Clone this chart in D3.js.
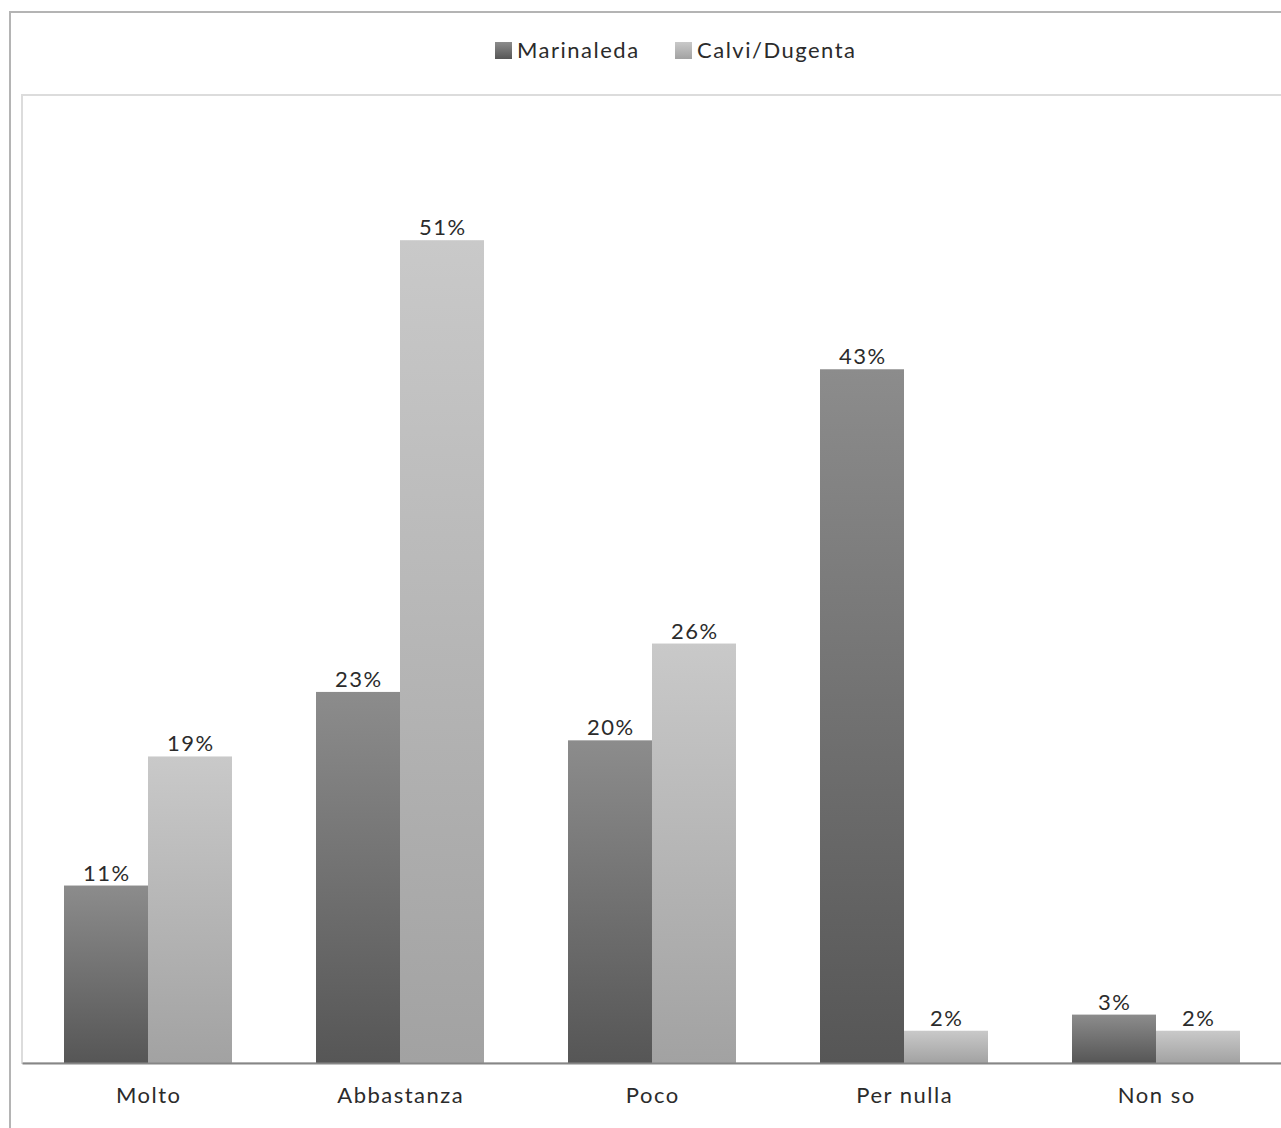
<!DOCTYPE html>
<html><head><meta charset="utf-8">
<script src="https://cdn.jsdelivr.net/npm/d3@7"></script>
<style>body{margin:0;background:#fff;overflow:hidden}svg{display:block}</style>
</head><body>
<script>
const categories = ["Molto","Abbastanza","Poco","Per nulla","Non so"];
const seriesNames = ["Marinaleda","Calvi/Dugenta"];
const marinaleda = [11,23,20,43,3];
const calviDugenta = [19,51,26,2,2];
const W = 1281, H = 1128;
const font = "Lato, 'Open Sans', sans-serif";
const fs = 22, ls = 1.5;
const svg = d3.select("body").append("svg").attr("width",W).attr("height",H);
const defs = svg.append("defs");
function grad(id, top, bottom){
  const g = defs.append("linearGradient").attr("id",id).attr("x1",0).attr("y1",0).attr("x2",0).attr("y2",1);
  g.append("stop").attr("offset","0%").attr("stop-color",top);
  g.append("stop").attr("offset","100%").attr("stop-color",bottom);
}
grad("g0","#8c8c8c","#565656");
grad("g1","#c9c9c9","#a2a2a2");
// outer border
svg.append("rect").attr("x",10).attr("y",12).attr("width",W+20).attr("height",H+20)
  .attr("fill","none").attr("stroke","#b4b4b4").attr("stroke-width",2);
const plot = {l:22, t:95, r:1282, b:1063};
// plot area border
svg.append("rect").attr("x",plot.l).attr("y",plot.t).attr("width",W+20).attr("height",plot.b-plot.t)
  .attr("fill","none").attr("stroke","#dcdcdc").attr("stroke-width",2);
const x = d3.scaleBand().domain(categories).range([plot.l, plot.r]).paddingInner(1/3).paddingOuter(1/6);
const xs = d3.scaleBand().domain(seriesNames).range([0, x.bandwidth()]);
const y = d3.scaleLinear().domain([0,60]).range([plot.b, plot.t]);
const data = categories.map((c,i)=>({c, vals:[marinaleda[i], calviDugenta[i]]}));
const grp = svg.append("g").selectAll("g").data(data).join("g").attr("transform",d=>`translate(${x(d.c)},0)`);
grp.selectAll("rect").data(d=>d.vals.map((v,j)=>({v,j}))).join("rect")
  .attr("x",d=>xs(seriesNames[d.j])).attr("width",xs.bandwidth())
  .attr("y",d=>y(d.v)).attr("height",d=>y(0)-y(d.v))
  .attr("fill",d=>`url(#g${d.j})`);
grp.selectAll("text").data(d=>d.vals.map((v,j)=>({v,j}))).join("text")
  .attr("x",d=>xs(seriesNames[d.j])+xs.bandwidth()/2+ls/2).attr("y",d=>y(d.v)-5)
  .attr("text-anchor","middle").attr("font-family",font).attr("font-size",fs).attr("letter-spacing",ls).attr("fill","#2b2b2b")
  .text(d=>d.v+"%");
// axis
const ax = svg.append("g").attr("transform",`translate(0,${plot.b})`).call(d3.axisBottom(x).tickSize(0).tickPadding(24));
ax.select(".domain").attr("stroke","#868686").attr("stroke-width",2);
ax.selectAll("text").attr("font-family",font).attr("font-size",fs).attr("letter-spacing",ls).attr("fill","#2b2b2b").attr("dx",ls/2);
// legend
const leg = svg.append("g");
const lx = [495, 675];
seriesNames.forEach((s,i)=>{
  leg.append("rect").attr("x",lx[i]).attr("y",42).attr("width",17).attr("height",17).attr("fill",`url(#g${i})`);
  leg.append("text").attr("x",lx[i]+22).attr("y",58).attr("font-family",font).attr("font-size",fs).attr("letter-spacing",ls).attr("fill","#2b2b2b").text(s);
});
</script>
</body></html>
